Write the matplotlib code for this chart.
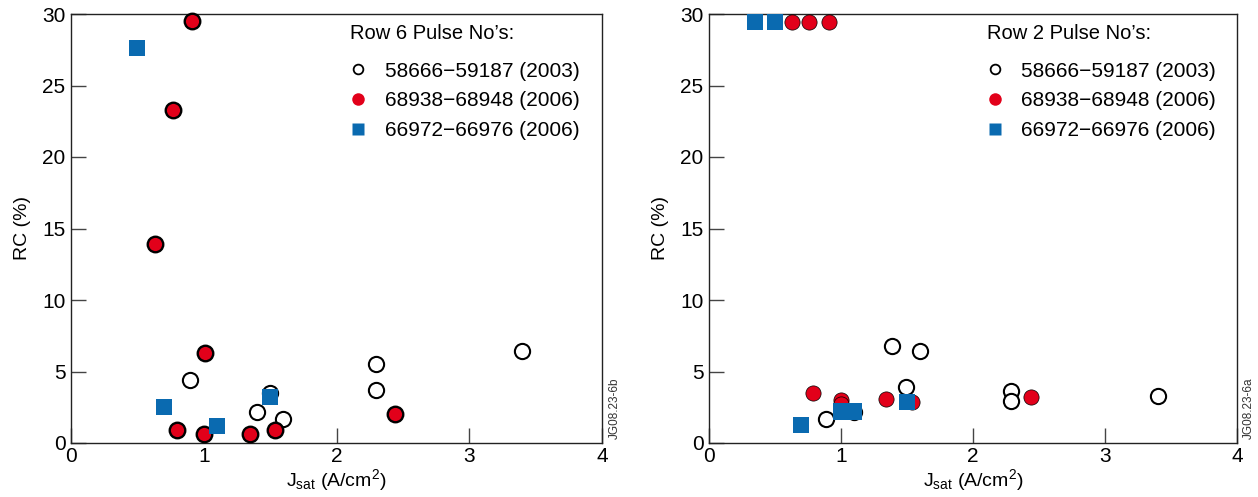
import matplotlib
matplotlib.use("Agg")
import matplotlib.pyplot as plt
from matplotlib.lines import Line2D

plt.rcParams['font.family'] = ['Liberation Sans', 'DejaVu Sans']
plt.rcParams['mathtext.fontset'] = 'custom'
plt.rcParams['mathtext.rm'] = 'Liberation Sans'
plt.rcParams['mathtext.it'] = 'Liberation Sans'
plt.rcParams['mathtext.default'] = 'regular'

RED = '#e2001a'
BLUE = '#0a6ab0'

series_labels = ['58666\u221259187 (2003)', '68938\u221268948 (2006)', '66972\u221266976 (2006)']

# Row 6
row6_open_x = [0.90, 1.40, 1.50, 1.60, 2.30, 2.30, 3.40]
row6_open_y = [4.4, 2.2, 3.5, 1.7, 5.5, 3.7, 6.4]
row6_red_x = [0.91, 0.77, 0.635, 1.01, 0.80, 1.00, 1.35, 1.54, 2.44]
row6_red_y = [29.5, 23.3, 13.9, 6.3, 0.9, 0.6, 0.6, 0.9, 2.0]
row6_blue_x = [0.50, 0.70, 1.10, 1.50]
row6_blue_y = [27.6, 2.5, 1.2, 3.2]

# Row 2
row2_open_x = [1.39, 1.60, 1.49, 2.29, 2.29, 3.40, 1.10, 0.89]
row2_open_y = [6.8, 6.4, 3.9, 3.65, 2.95, 3.3, 2.2, 1.65]
row2_red_x = [0.63, 0.76, 0.91, 0.79, 1.00, 1.00, 1.34, 1.54, 2.44]
row2_red_y = [29.45, 29.45, 29.45, 3.5, 3.0, 2.7, 3.1, 2.85, 3.2]
row2_blue_x = [0.35, 0.50, 0.70, 1.00, 1.10, 1.50]
row2_blue_y = [29.45, 29.45, 1.25, 2.2, 2.2, 2.85]

xticks = [0, 1, 2, 3, 4]
yticks = [0, 5, 10, 15, 20, 25, 30]

fig = plt.figure(figsize=(12.58, 4.97), dpi=100)
W, H = 1258, 497
ax1 = fig.add_axes([71 / W, 1 - 443 / H, 531 / W, 429 / H])
ax2 = fig.add_axes([709 / W, 1 - 443 / H, 528 / W, 429 / H])


def draw(ax, ox, oy, rx, ry, bx, by, edge_w, title, code):
    ax.scatter(ox, oy, s=120, facecolor='white', edgecolor='black', linewidth=1.5, zorder=3, clip_on=False)
    ax.scatter(rx, ry, s=125 if edge_w > 1 else 120, facecolor=RED,
               edgecolor='black' if edge_w > 0 else 'none',
               linewidth=edge_w, zorder=4, clip_on=False)
    ax.scatter(bx, by, s=135, marker='s', facecolor=BLUE, edgecolor='none', zorder=5, clip_on=False)
    ax.set_xlim(0, 4)
    ax.set_ylim(0, 30)
    ax.set_xticks(xticks)
    ax.set_yticks(yticks)
    ax.tick_params(direction='in', length=11, width=1.0, labelsize=15, pad=4, color='#444444')
    ax.tick_params(axis='x', pad=3)
    for sp in ax.spines.values():
        sp.set_linewidth(1.0)
        sp.set_color('#222222')
    ax.set_xlabel('J$_{sat}$ (A/cm$^{2}$)', fontsize=14, labelpad=1)
    ax.set_ylabel('RC (%)', fontsize=14, labelpad=8)
    handles = [
        Line2D([], [], ls='none', marker='o', ms=7, mfc='white', mec='black', mew=1.3),
        Line2D([], [], ls='none', marker='o', ms=9, mfc=RED, mec='none'),
        Line2D([], [], ls='none', marker='s', ms=8, mfc=BLUE, mec='none'),
    ]
    leg = ax.legend(handles, series_labels, title=title, loc='upper left',
                    bbox_to_anchor=(0.51, 0.995), frameon=False, fontsize=15,
                    title_fontsize=14.5, handlelength=0.8, handletextpad=0.85,
                    labelspacing=0.52, borderaxespad=0.0)
    leg._legend_box.align = 'left'
    leg._legend_box.sep = 13
    ax.text(1.012, 0.01, code, transform=ax.transAxes, rotation=90, fontsize=8.5,
            ha='left', va='bottom', color='#333333')


draw(ax1, row6_open_x, row6_open_y, row6_red_x, row6_red_y, row6_blue_x, row6_blue_y,
     1.7, "Row 6 Pulse No\u2019s:", 'JG08.23-6b')
draw(ax2, row2_open_x, row2_open_y, row2_red_x, row2_red_y, row2_blue_x, row2_blue_y,
     0.5, "Row 2 Pulse No\u2019s:", 'JG08.23-6a')

fig.savefig('out.png', dpi=100)
